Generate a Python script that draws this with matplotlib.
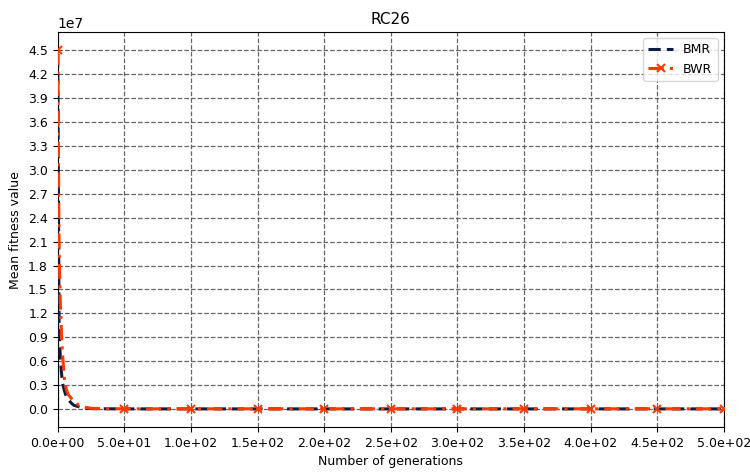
import matplotlib
matplotlib.use("Agg")
import matplotlib.pyplot as plt
from matplotlib.ticker import FormatStrFormatter, MultipleLocator, ScalarFormatter

# generations and mean fitness values (x 1e7)
gens = [0, 1, 2, 3, 4, 5, 6, 7, 8, 9, 10, 12, 14, 16, 18, 20, 25, 30, 40,
        50, 100, 150, 200, 250, 300, 350, 400, 450, 500]
bmr = [4.45, 1.05, 0.62, 0.42, 0.30, 0.23, 0.18, 0.15, 0.12, 0.10, 0.08, 0.05,
       0.04, 0.03, 0.02, 0.012, 0.008, 0.006, 0.005,
       0.004, 0.004, 0.004, 0.004, 0.004, 0.004, 0.004, 0.004, 0.004, 0.004]
bwr = [4.5, 2.0, 1.3, 0.85, 0.60, 0.38, 0.28, 0.22, 0.18, 0.16, 0.14, 0.10,
       0.07, 0.05, 0.04, 0.025, 0.012, 0.008, 0.006,
       0.005, 0.005, 0.005, 0.005, 0.005, 0.005, 0.005, 0.005, 0.005, 0.005]

scale = 1e7
bmr_v = [v * scale for v in bmr]
bwr_v = [v * scale for v in bwr]
mark_idx = [i for i, g in enumerate(gens) if g % 50 == 0]

fig = plt.figure(figsize=(7.5, 4.72), dpi=100)
ax = fig.add_axes([0.077, 0.095, 0.888, 0.837])

ax.plot(gens, bmr_v, color="#0b1d3f", linestyle=(0, (4, 2)), linewidth=2.2, label="BMR", zorder=3)
ax.plot(gens, bwr_v, color="#ff3a00", linestyle=(0, (5, 2, 1, 2)), linewidth=2.2, marker="x",
        markersize=6, markeredgewidth=1.5, markevery=mark_idx, label="BWR", zorder=4)

ax.set_xlim(0, 500)
ax.xaxis.set_major_locator(MultipleLocator(50))
ax.xaxis.set_major_formatter(FormatStrFormatter("%.1e"))
ax.yaxis.set_major_locator(MultipleLocator(0.3e7))
sf = ScalarFormatter(useOffset=True)
sf.set_powerlimits((0, 0))
ax.yaxis.set_major_formatter(sf)
ax.set_ylim(-0.225e7, 4.725e7)

ax.grid(True, linestyle="--", color="#555555", linewidth=0.9, alpha=0.9)
ax.set_xlabel("Number of generations", fontsize=9)
ax.set_ylabel("Mean fitness value", fontsize=9)
ax.set_title("RC26", fontsize=11)
ax.tick_params(labelsize=9)
ax.legend(loc="upper right", fontsize=9)

fig.savefig("out.png", dpi=100)
